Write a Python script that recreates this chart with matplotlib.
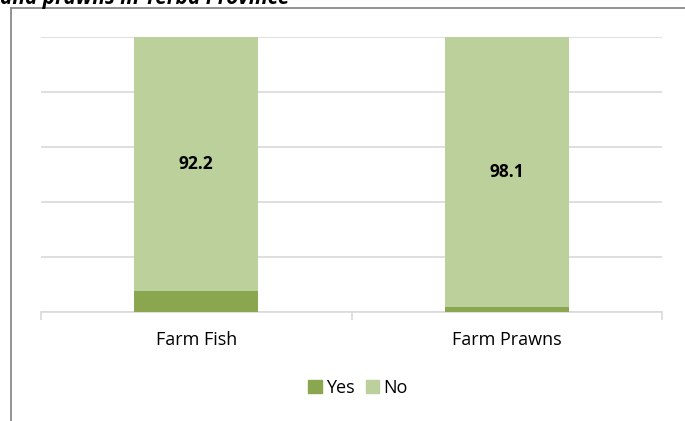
import matplotlib
matplotlib.use("Agg")
import matplotlib.pyplot as plt
from matplotlib.lines import Line2D
from matplotlib.patches import Patch

categories = ["Farm Fish", "Farm Prawns"]
yes_vals = [7.8, 1.9]
no_vals = [92.2, 98.1]
title_text = "and prawns in Yerba Province"

yes_color = "#8AA64E"
no_color = "#BBD09A"
grid_color = "#D9D9D9"

plt.rcParams['font.family'] = ['Open Sans', 'DejaVu Sans']

fig = plt.figure(figsize=(6.85, 4.21), dpi=100)
ax = fig.add_axes([41/685, 1-312/421, (662-41)/685, (312-37)/421])

x = range(len(categories))
ax.bar(x, yes_vals, width=0.40, color=yes_color, label="Yes", zorder=3)
ax.bar(x, no_vals, width=0.40, bottom=yes_vals, color=no_color, label="No", zorder=3)

for i, (y, n) in enumerate(zip(yes_vals, no_vals)):
    ax.text(i, y + n/2, f"{n:.1f}", ha='center', va='center', fontsize=12.5,
            fontweight='bold', color='black', zorder=4)

ax.set_xlim(-0.5, len(categories) - 0.5)
ax.set_ylim(0, 100)
ax.set_yticks([0, 20, 40, 60, 80, 100])
ax.yaxis.grid(True, color=grid_color, linewidth=1.2, zorder=0)
ax.tick_params(axis='y', length=0, labelleft=False)
ax.set_xticks(list(x))
ax.set_xticklabels(categories, fontsize=13)
ax.tick_params(axis='x', which='major', length=0, pad=14)
ax.set_xticks([-0.5, 0.5, 1.5], minor=True)
ax.tick_params(axis='x', which='minor', length=6, color=grid_color, width=1.2)
for s in ['top', 'right', 'left']:
    ax.spines[s].set_visible(False)
ax.spines['bottom'].set_color(grid_color)
ax.spines['bottom'].set_linewidth(1.2)

handles = [Patch(color=yes_color, label="Yes"), Patch(color=no_color, label="No")]
fig.legend(handles=handles, loc='center', bbox_to_anchor=(358/685, 1-388/421), ncol=2,
           frameon=False, fontsize=13, handlelength=0.75, handleheight=0.75,
           handletextpad=0.25, columnspacing=0.6)

# outer frame
fy = 1 - 8/421
fx = 11/685
fig.add_artist(Line2D([fx, fx], [0, fy], color='#808080', linewidth=1.2, transform=fig.transFigure))
fig.add_artist(Line2D([fx, 1], [fy, fy], color='#808080', linewidth=1.2, transform=fig.transFigure))

# clipped title
fig.text(0/685, 1 - 4/421, title_text, fontsize=15, fontweight='bold', fontstyle='italic',
         ha='left', va='baseline')

fig.savefig("out.png", dpi=100)
